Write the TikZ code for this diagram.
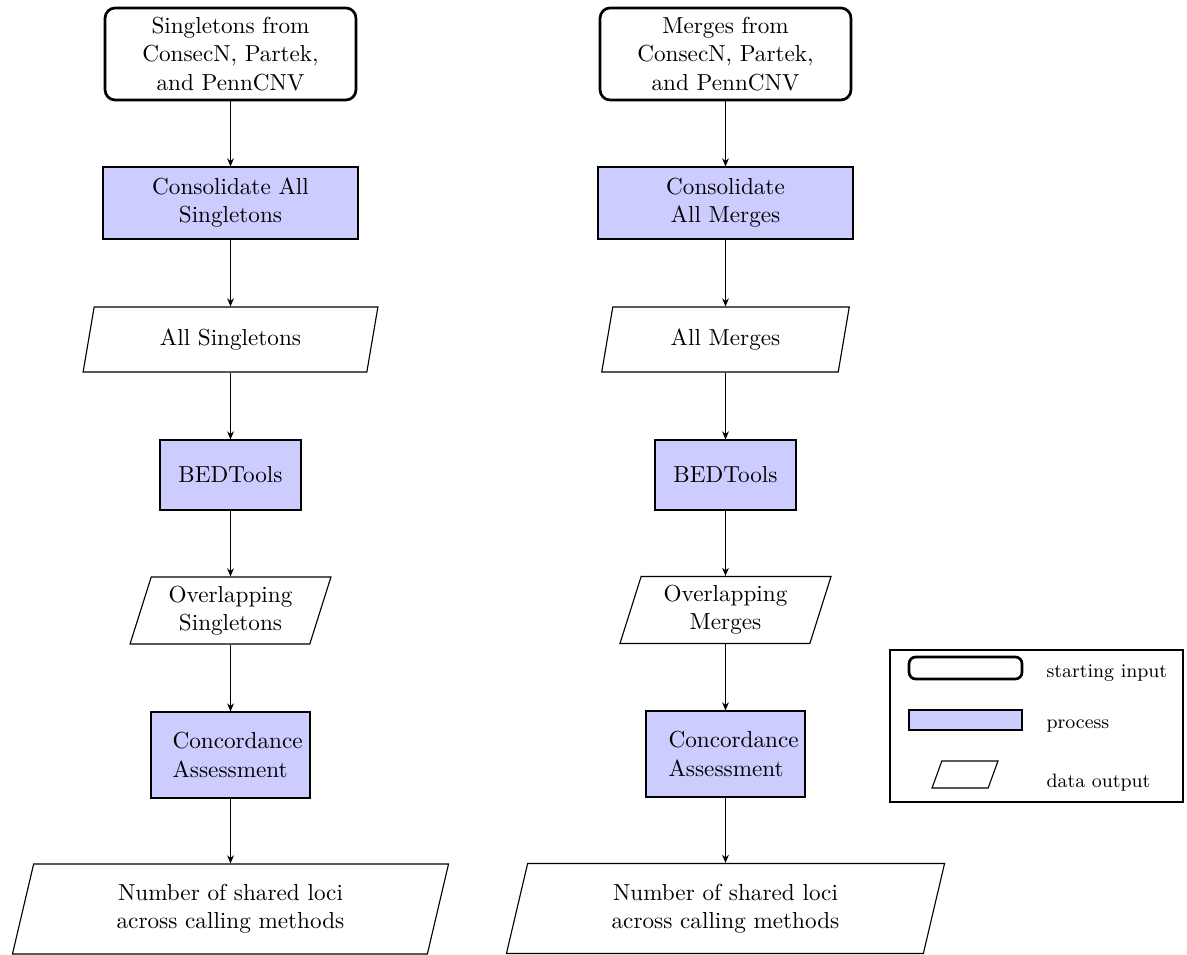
\documentclass[tikz,border=0pt]{standalone}
\usetikzlibrary{shapes.geometric,arrows.meta}
\begin{document}
\begin{tikzpicture}[x=0.4444pt,y=-0.4444pt,line width=0.5pt,
  every node/.style={font=\fontsize{10.3pt}{12.5pt}\selectfont},
  startbox/.style={draw, line width=1.2pt, rounded corners=4.5pt, align=center,
    minimum width=111.5pt, minimum height=40.9pt, inner sep=2pt},
  procbox/.style={draw, fill=blue!20, align=center, inner sep=2pt},
  databox/.style={draw, trapezium, trapezium left angle=70, trapezium right angle=110,
    trapezium stretches body=true, align=center, inner sep=2pt},
  legtext/.style={anchor=base west, inner sep=0pt, font=\fontsize{8.6pt}{10.5pt}\selectfont},
  flow/.style={line width=0.5pt, -{Stealth[length=3.6pt,width=3pt]}}
]
\useasboundingbox (0,0) rectangle (1187,955);

% left column: singletons
\node[startbox] (s1) at (230.5,54) {Singletons from\\ConsecN, Partek,\\and PennCNV};
\node[procbox, minimum width=113.3pt, minimum height=32pt] (s2) at (230.5,203) {Consolidate All\\Singletons};
\node[databox, minimum width=131pt, minimum height=28.9pt] (s3) at (230.5,339.5) {All Singletons};
\node[procbox, minimum width=62.7pt, minimum height=31.1pt] (s4) at (230.5,475) {BEDTools};
\node[databox, minimum width=89.3pt, minimum height=29.8pt] (s5) at (230.5,610.5) {Overlapping\\Singletons};
\node[procbox, minimum width=70.7pt, minimum height=38.2pt] (s6) at (230.5,755) {};
\node[anchor=west, align=left, inner sep=0pt] (s6t) at (172,755) {Concordance\\Assessment};
\node[databox, minimum width=193.8pt, minimum height=40pt] (s7) at (230.5,909) {Number of shared loci\\across calling methods};

% right column: merges
\node[startbox] (m1) at (725.5,54) {Merges from\\ConsecN, Partek,\\and PennCNV};
\node[procbox, minimum width=113.3pt, minimum height=32pt] (m2) at (725.5,203) {Consolidate\\All Merges};
\node[databox, minimum width=110pt, minimum height=28.9pt] (m3) at (725.5,339.5) {All Merges};
\node[procbox, minimum width=62.7pt, minimum height=31.1pt] (m4) at (725.5,475) {BEDTools};
\node[databox, minimum width=93.8pt, minimum height=29.8pt] (m5) at (725.5,610) {Overlapping\\Merges};
\node[procbox, minimum width=70.7pt, minimum height=38.2pt] (m6) at (725.5,754) {};
\node[anchor=west, align=left, inner sep=0pt] (m6t) at (668,754) {Concordance\\Assessment};
\node[databox, minimum width=194.7pt, minimum height=40pt] (m7) at (725.5,908.5) {Number of shared loci\\across calling methods};

% connectors: straight down from each step to the next
\foreach \c in {s,m}{
  \foreach \a/\b in {1/2,2/3,3/4,4/5,5/6,6/7}{
    \draw[flow] (\c\a.south -| \c2.center) -- (\c\b.north -| \c2.center);
  }
}

% legend
\node[draw, minimum width=130.2pt, minimum height=67.5pt] (leg) at (1036.5,726) {};
\node[draw, line width=1.2pt, rounded corners=3pt, minimum width=50.2pt, minimum height=9.8pt] (l1) at (965.5,668) {};
\node[procbox, minimum width=50.2pt, minimum height=8.9pt] (l2) at (965.5,720) {};
\node[databox, inner sep=0pt, minimum width=29.3pt] (l3) at (965,774.5) {\rule{0pt}{12pt}};
\node[legtext] (t1) at (1046,678) {starting input};
\node[legtext] (t2) at (1046,729) {process};
\node[legtext] (t3) at (1046,788) {data output};
\end{tikzpicture}
\end{document}
